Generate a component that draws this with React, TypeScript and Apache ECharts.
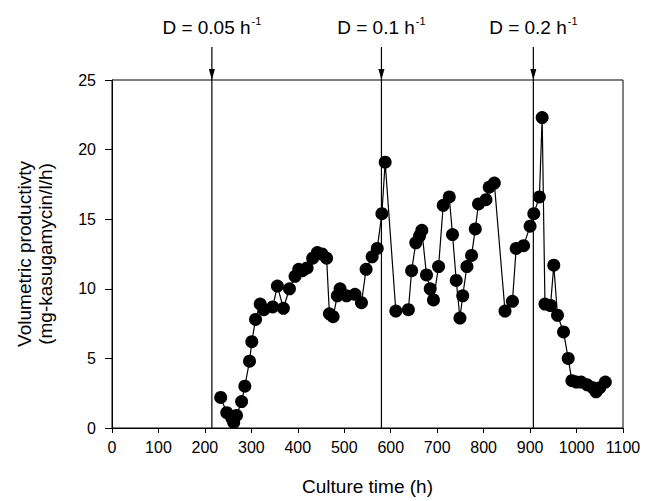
import React, { useEffect, useRef } from "react";
import * as echarts from "echarts";

// Culture time (h)
const times = [
  234, 247, 258, 262, 268, 279, 286, 296, 301, 309, 319, 327, 346, 356, 369, 382, 394, 402, 410, 420,
  432, 442, 452, 462, 468, 476, 485, 491, 505, 523, 537, 547, 560, 571, 581, 588, 611, 638, 645, 654,
  662, 667, 677, 685, 692, 703, 713, 726, 733, 741, 749, 755, 764, 774, 782, 789, 805, 812, 823, 846,
  862, 870, 886, 900, 908, 920, 926, 932, 944, 951, 959, 972, 982, 990, 1000, 1010, 1023, 1035, 1042, 1050,
  1062,
];
// Volumetric productivity (mg-kasugamycin/l/h)
const productivity = [
  2.2, 1.1, 0.7, 0.4, 0.9, 1.9, 3.0, 4.8, 6.2, 7.8, 8.9, 8.5, 8.7, 10.2, 8.6, 10.0, 10.9, 11.4, 11.3, 11.5,
  12.2, 12.6, 12.5, 12.2, 8.2, 8.0, 9.5, 10.0, 9.5, 9.6, 9.0, 11.4, 12.3, 12.9, 15.4, 19.1, 8.4, 8.5, 11.3, 13.3,
  13.8, 14.2, 11.0, 10.0, 9.2, 11.6, 16.0, 16.6, 13.9, 10.6, 7.9, 9.5, 11.6, 12.4, 14.3, 16.1, 16.4, 17.3, 17.6, 8.4,
  9.1, 12.9, 13.1, 14.5, 15.4, 16.6, 22.3, 8.9, 8.8, 11.7, 8.1, 6.9, 5.0, 3.4, 3.3, 3.3, 3.1, 2.9, 2.6, 2.9,
  3.3,
];
// Dilution-rate changes
const dilutionTimes = [215, 580, 907];
const dilutionLabels = ["0.05", "0.1", "0.2"];

const FONT = "'Liberation Sans', Arial, Helvetica, sans-serif";

export default function App() {
  const ref = useRef<HTMLDivElement>(null);
  useEffect(() => {
    if (!ref.current) return;
    const chart = echarts.init(ref.current, null, { renderer: "svg" });
    chart.setOption({
      animation: false,
      backgroundColor: "#fff",
      textStyle: { fontFamily: FONT, color: "#000" },
      grid: {
        left: 112,
        right: 23,
        top: 80,
        bottom: 68,
        show: true,
        borderColor: "#000",
        borderWidth: 1,
        backgroundColor: "transparent",
      },
      xAxis: {
        type: "value",
        min: 0,
        max: 1100,
        interval: 100,
        name: "Culture time (h)",
        nameLocation: "middle",
        nameGap: 49,
        nameTextStyle: { fontSize: 19, color: "#000", fontFamily: FONT },
        axisLine: { lineStyle: { color: "#000", width: 1 } },
        axisTick: { show: true, inside: false, length: 5, lineStyle: { color: "#000" } },
        axisLabel: {
          fontSize: 16,
          color: "#000",
          margin: 11,
          fontFamily: FONT,
          formatter: (v: number) => String(v),
        },
        splitLine: { show: false },
      },
      yAxis: {
        type: "value",
        min: 0,
        max: 25,
        interval: 5,
        name: "Volumetric productivty\n(mg-kasugamycin/l/h)",
        nameLocation: "middle",
        nameRotate: 90,
        nameGap: 56,
        nameTextStyle: { fontSize: 19, color: "#000", fontFamily: FONT, lineHeight: 21 },
        axisLine: { show: true, lineStyle: { color: "#000", width: 1 } },
        axisTick: { show: true, inside: false, length: 7, lineStyle: { color: "#000" } },
        axisLabel: { fontSize: 16, color: "#000", margin: 16, fontFamily: FONT },
        splitLine: { show: false },
      },
      series: [
        {
          type: "line",
          data: times.map((t, i) => [t, productivity[i]]),
          symbol: "circle",
          symbolSize: 13,
          itemStyle: { color: "#000" },
          lineStyle: { color: "#000", width: 1.2 },
          z: 5,
        },
      ],
    });

    const yTop = chart.convertToPixel({ gridIndex: 0 }, [0, 25])[1];
    const yBottom = chart.convertToPixel({ gridIndex: 0 }, [0, 0])[1];
    const graphics: any[] = [];
    dilutionTimes.forEach((t, i) => {
      const x = chart.convertToPixel({ xAxisIndex: 0 }, t) as number;
      graphics.push({
        type: "line",
        z: 1,
        shape: { x1: x, y1: yTop - 33, x2: x, y2: yBottom },
        style: { stroke: "#000", lineWidth: 1.2 },
      });
      graphics.push({
        type: "polygon",
        z: 1,
        shape: { points: [[x - 3, yTop - 11], [x + 3, yTop - 11], [x, yTop]] },
        style: { fill: "#000" },
      });
      graphics.push({
        type: "text",
        z: 1,
        x,
        y: 26,
        style: {
          text: `{a|D = ${dilutionLabels[i]} h}{s|-1}`,
          align: "center",
          verticalAlign: "middle",
          rich: {
            a: { fontSize: 19, fontFamily: FONT, fill: "#000", lineHeight: 22, verticalAlign: "bottom" },
            s: { fontSize: 11, fontFamily: FONT, fill: "#000", lineHeight: 22, verticalAlign: "top", padding: [0, 0, 0, 1] },
          },
        },
      });
    });
    chart.setOption({ graphic: graphics });

    return () => chart.dispose();
  }, []);
  return (
    <div
      ref={ref}
      style={{ position: "fixed", left: 0, top: 0, width: 646, height: 501, background: "#fff" }}
    />
  );
}
